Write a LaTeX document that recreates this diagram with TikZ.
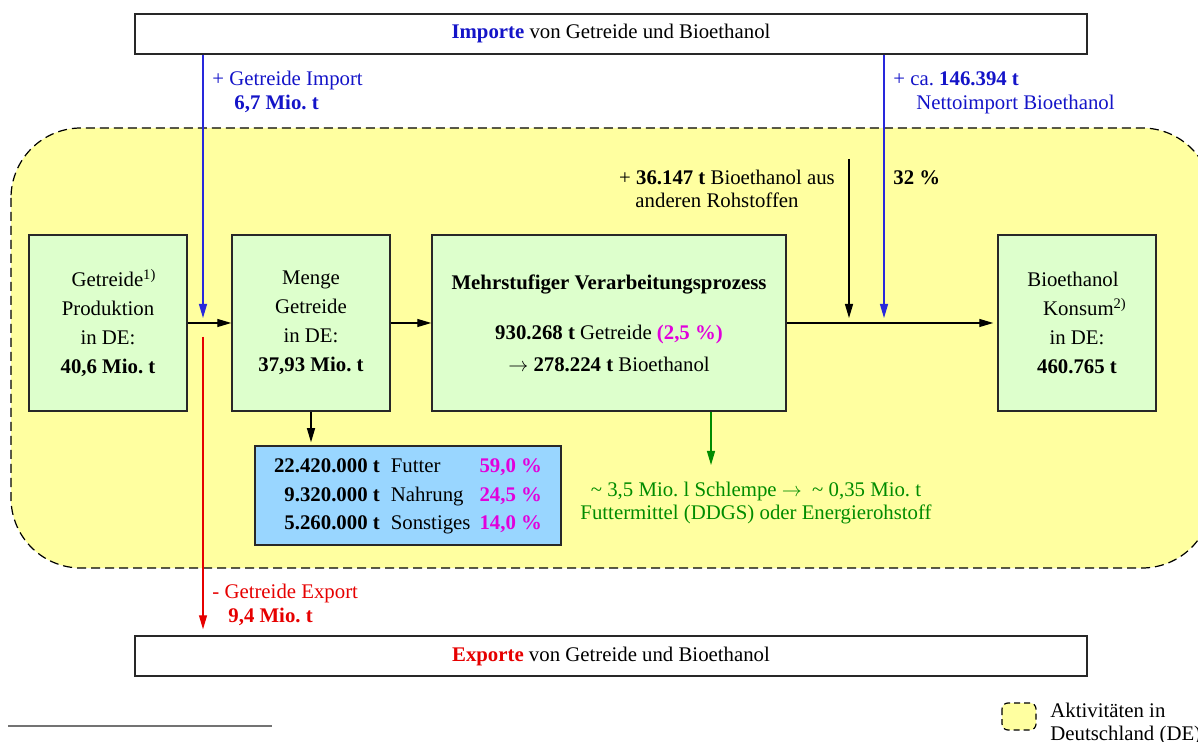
\documentclass[tikz,border=0pt]{standalone}
\usepackage{fontspec}
\setmainfont{Liberation Serif}
\usetikzlibrary{arrows.meta}
\definecolor{blueT}{RGB}{20,20,200}
\definecolor{blueL}{RGB}{40,40,220}
\definecolor{redT}{RGB}{230,0,0}
\definecolor{magT}{RGB}{225,0,220}
\definecolor{greenT}{RGB}{0,140,0}
\definecolor{yellowF}{RGB}{255,255,160}
\definecolor{greenF}{RGB}{221,255,204}
\definecolor{blueF}{RGB}{153,214,255}
\definecolor{boxline}{RGB}{40,40,40}
\frenchspacing
\begin{document}
\begin{tikzpicture}[x=0.5pt,y=-0.5pt,
  font=\fontsize{10.4}{12}\selectfont,
  greenbox/.style={draw=boxline, line width=0.75pt, fill=greenF, minimum width=79pt, minimum height=88pt, inner sep=0pt, align=center, font=\fontsize{10.4}{14.5}\selectfont},
  bar/.style={draw=boxline, fill=white, line width=0.75pt, minimum width=476pt, minimum height=20pt, inner sep=0pt},
  tabbox/.style={draw=boxline, fill=blueF, line width=0.75pt, minimum width=153pt, minimum height=49.5pt, inner sep=0pt, font=\fontsize{10.4}{14.25}\selectfont},
  arr/.style={-{Triangle[length=7pt,width=4pt]}, line width=0.6pt},
  lbl/.style={inner sep=0pt, anchor=base west},
  lblc/.style={inner sep=0pt, anchor=base},
  region/.style={draw=black, fill=yellowF, dash pattern=on 4.5pt off 2.5pt, line width=0.6pt}
]
\useasboundingbox (0,0) rectangle (1198,742);
\clip (0,0) rectangle (1198,742);

% region
\draw[region, rounded corners=35pt] (11,128) rectangle (1212,568);

% bars
\node[bar] (imp) at (611,34) {\textcolor{blueT}{\textbf{Importe}} von Getreide und Bioethanol};
\node[bar] (exp) at (611,656) {\textcolor{redT}{\textbf{Exporte}} von Getreide und Bioethanol};

% boxes
\node[greenbox] (getr) at (108,323) {\hspace*{6pt}Getreide\textsuperscript{1)}\\Produktion\\in DE:\\\textbf{40,6 Mio. t}};
\node[greenbox] (menge) at (311,323) {Menge\\Getreide\\in DE:\\\textbf{37,93 Mio. t}};
\node[greenbox, minimum width=177pt] (proc) at (609,323) {\textbf{Mehrstufiger Verarbeitungsprozess}\\[10.5pt]\textbf{930.268 t} Getreide \textcolor{magT}{\textbf{(2,5 \%)}}\\[1.5pt]$\rightarrow$ \textbf{278.224 t} Bioethanol};
\node[greenbox] (bio) at (1077,323) {Bioethanol\hspace*{4pt}\\\hspace*{8pt}Konsum\textsuperscript{2)}\\in DE:\\\textbf{460.765 t}};

\node[tabbox] (tab) at (408,495.5) {\begin{tabular}{@{}r@{\hspace{5.5pt}}l@{\hspace{4.5pt}}r@{}}
\textbf{22.420.000 t} & Futter & \textcolor{magT}{\textbf{59,0 \%}}\\
\textbf{9.320.000 t} & Nahrung & \textcolor{magT}{\textbf{24,5 \%}}\\
\textbf{5.260.000 t} & Sonstiges & \textcolor{magT}{\textbf{14,0 \%}}
\end{tabular}};

% arrows
\draw[arr] (getr.east) -- (menge.west);
\draw[arr] (menge.east) -- (proc.west);
\draw[arr, shorten >=2pt] (proc.east) -- (bio.west);
\draw[arr, shorten >=1.5pt] (menge.south) -- (menge.south |- tab.north);

\coordinate (gtip) at (711,465);
\draw[arr, draw=greenT, fill=greenT] (proc.south -| gtip) -- (gtip);

\coordinate (i1) at (203,318);
\draw[arr, draw=blueL, fill=blueL] (imp.south -| i1) -- (i1);
\coordinate (i2) at (884,318);
\draw[arr, draw=blueL, fill=blueL] (imp.south -| i2) -- (i2);

\coordinate (o1) at (849,159);
\coordinate (o2) at (849,318);
\draw[arr] (o1) -- (o2);

\coordinate (r1) at (203,337);
\draw[arr, draw=redT, fill=redT, shorten >=3pt] (r1) -- (exp.north -| r1);

% labels
\node[lbl, text=blueT] (impl1) at (212,86) {+ Getreide Import};
\node[lbl, text=blueT] (impl2) at (234,110) {\textbf{6,7 Mio. t}};
\node[lbl, text=blueT] (netl1) at (893,86) {+ ca. \textbf{146.394 t}};
\node[lbl, text=blueT] (netl2) at (916,110) {Nettoimport Bioethanol};
\node[lblc] (othl1) at (727,185) {+ \textbf{36.147 t} Bioethanol aus};
\node[lblc] (othl2) at (717,208) {anderen Rohstoffen};
\node[lbl] (pct) at (893,185) {\textbf{32 \%}};
\node[lblc, text=greenT] (grl1) at (756,496) {\textasciitilde{} 3,5 Mio. l Schlempe $\rightarrow$ \ \textasciitilde{} 0,35 Mio. t};
\node[lblc, text=greenT] (grl2) at (756,519) {Futtermittel (DDGS) oder Energierohstoff};
\node[lbl, text=redT] (expl1) at (212,598) {- Getreide Export};
\node[lbl, text=redT] (expl2) at (228,622) {\textbf{9,4 Mio. t}};

% footnote line
\draw[black!55, line width=0.8pt] (8,726) -- (272,726);

% legend
\draw[region, rounded corners=3pt, dash pattern=on 3pt off 2pt] (1002,703) rectangle (1036,730);
\node[lbl] (leg1) at (1050,717) {Aktivitäten in};
\node[lbl] (leg2) at (1050,740) {Deutschland (DE)};
\end{tikzpicture}
\end{document}
